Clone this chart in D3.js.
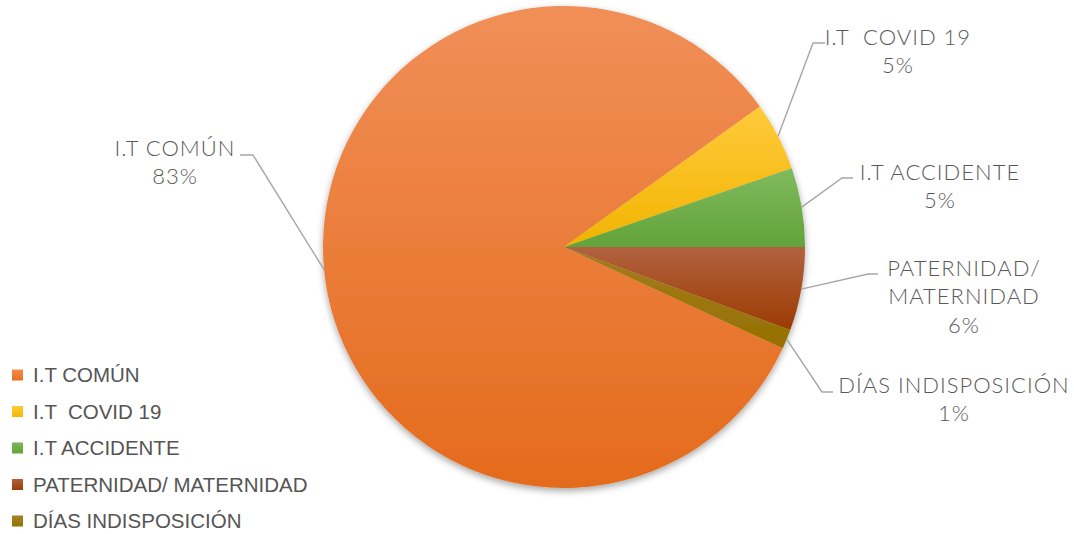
<!DOCTYPE html>
<html>
<head>
<meta charset="utf-8">
<script src="https://cdn.jsdelivr.net/npm/d3@7"></script>
<style>
  html, body { margin: 0; padding: 0; background: #fff; }
  svg { display: block; }
  text, tspan { white-space: pre; }
</style>
</head>
<body>
<svg id="chart" width="1074" height="534"></svg>
<script>
// Days of leave by type
const categories = ["I.T COMÚN", "I.T  COVID 19", "I.T ACCIDENTE", "PATERNIDAD/ MATERNIDAD", "DÍAS INDISPOSICIÓN"];
const values = [1664, 92, 106, 112, 26];
// Data-label text lines (category name split as shown on the chart)
const labelLines = [["I.T COMÚN"], ["I.T  COVID 19"], ["I.T ACCIDENTE"], ["PATERNIDAD/", "MATERNIDAD"], ["DÍAS INDISPOSICIÓN"]];

// Fill colours: [top, bottom] of each slice gradient
const colors = [
  ["#F18F58", "#E46B1C"],
  ["#FFCA3C", "#F1B400"],
  ["#80BA5E", "#62A33A"],
  ["#B2623F", "#9B3B02"],
  ["#A47C1E", "#957000"]
];
const legendColors = [
  ["#F38B4C", "#E8701F"],
  ["#FFCB3A", "#F5B800"],
  ["#7CB85A", "#63A43A"],
  ["#B0603C", "#9C3F08"],
  ["#A6812A", "#977200"]
];

// Label layout: label centre x, first-line centre y, leader elbow and end points
const labelLayout = [
  { cx: 175, cy: 148, elbow: [253, 155], end: [240, 155] },
  { cx: 898, cy: 37,  elbow: [813, 43],  end: [825, 43] },
  { cx: 940, cy: 172, elbow: [842, 178], end: [853, 178] },
  { cx: 964, cy: 268, elbow: [868, 274], end: [878, 274] },
  { cx: 954, cy: 385, elbow: [822, 392], end: [833, 392] }
];

const svg = d3.select("#chart");
const cx = 564, cy = 247, radius = 241;

const defs = svg.append("defs");
const shadow = defs.append("filter").attr("id", "pieShadow")
  .attr("x", "-10%").attr("y", "-10%").attr("width", "120%").attr("height", "125%");
shadow.append("feDropShadow")
  .attr("dx", 0).attr("dy", 3).attr("stdDeviation", 3.5)
  .attr("flood-color", "#000").attr("flood-opacity", 0.35);

function addGradient(id, pair) {
  const g = defs.append("linearGradient").attr("id", id)
    .attr("x1", 0).attr("y1", 0).attr("x2", 0).attr("y2", 1);
  g.append("stop").attr("offset", "0%").attr("stop-color", pair[0]);
  g.append("stop").attr("offset", "100%").attr("stop-color", pair[1]);
}
colors.forEach((c, i) => addGradient("slice" + i, c));
legendColors.forEach((c, i) => addGradient("leg" + i, c));

const total = d3.sum(values);
// Rotate so the accident / paternity boundary sits at 3 o'clock
const firstThree = d3.sum(values.slice(0, 3)) / total * 2 * Math.PI;
const startAngle = Math.PI / 2 - firstThree + 2 * Math.PI;

const pie = d3.pie().sort(null).value(d => d)
  .startAngle(startAngle).endAngle(startAngle + 2 * Math.PI);
const arcs = pie(values);
const arc = d3.arc().innerRadius(0).outerRadius(radius);

const pieG = svg.append("g").attr("transform", `translate(${cx},${cy})`)
  .attr("filter", "url(#pieShadow)");
pieG.selectAll("path").data(arcs).join("path")
  .attr("d", arc)
  .attr("fill", (d, i) => `url(#slice${i})`);

// Leader lines from each slice's outer mid-point
const fmt = d3.format(".0%");
const lineG = svg.append("g");
arcs.forEach((a, i) => {
  const mid = (a.startAngle + a.endAngle) / 2;
  const px = cx + radius * Math.sin(mid);
  const py = cy - radius * Math.cos(mid);
  const L = labelLayout[i];
  lineG.append("polyline")
    .attr("points", [[px, py], L.elbow, L.end].map(p => p.join(",")).join(" "))
    .attr("fill", "none").attr("stroke", "#A6A6A6").attr("stroke-width", 1.4);
});

// Data labels
const labelG = svg.append("g")
  .attr("font-family", "Lato, 'Open Sans', sans-serif")
  .attr("font-weight", 300)
  .attr("font-size", 22)
  .attr("letter-spacing", 1)
  .attr("fill", "#595959")
  .attr("text-anchor", "middle");
arcs.forEach((a, i) => {
  const L = labelLayout[i];
  const lines = labelLines[i].concat([fmt(values[i] / total)]);
  const t = labelG.append("text");
  lines.forEach((s, k) => {
    t.append("tspan").attr("x", L.cx).attr("y", L.cy + k * 28.5).attr("dy", "0.35em").text(s);
  });
});

// Legend
const legend = svg.append("g")
  .attr("font-family", "'Liberation Sans', Arial, sans-serif")
  .attr("font-size", 20.5)
  .attr("fill", "#555555");
const legY = d3.scalePoint().domain(categories).range([375, 521]);
categories.forEach((c, i) => {
  const y = legY(c);
  legend.append("rect").attr("x", 12).attr("y", y - 5.5).attr("width", 11).attr("height", 11)
    .attr("fill", `url(#leg${i})`);
  legend.append("text").attr("x", 33).attr("y", y).attr("dy", "0.36em").text(c);
});
</script>
</body>
</html>
